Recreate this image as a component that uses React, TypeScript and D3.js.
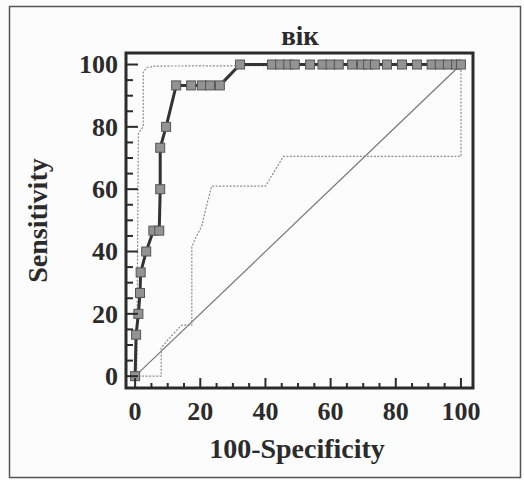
import React from "react";
import * as d3 from "d3";

const title = "вік";
const xTitle = "100-Specificity";
const yTitle = "Sensitivity";
const tickValues = [0, 20, 40, 60, 80, 100];
const minorTickValues = d3.range(0, 101, 5);

// main ROC curve (with markers)
const mainX = [0, 0.3, 1, 1.5, 1.7, 3.4, 5.6, 7.4, 7.7, 7.7, 9.5, 12.6, 17.2, 20.5, 23, 26, 32.2, 42, 44.5, 47, 49, 53.7, 57.5, 60, 62.5, 66.6, 69.6, 71.5, 73.6, 77.3, 81.9, 86.5, 91, 93.5, 96, 98.5, 100];
const mainY = [0, 13.3, 20, 26.7, 33.3, 40, 46.7, 46.7, 60, 73.3, 80, 93.3, 93.3, 93.3, 93.3, 93.3, 100, 100, 100, 100, 100, 100, 100, 100, 100, 100, 100, 100, 100, 100, 100, 100, 100, 100, 100, 100, 100];

// upper dotted curve
const upperX = [0, 0.5, 1, 2.5, 2.5, 3.5, 6, 30, 100];
const upperY = [0, 2, 78, 80, 97.5, 99, 99.5, 99.6, 100];

// lower dotted curve
const lowerX = [0, 8, 8, 10, 14.3, 17.4, 17.4, 18.7, 20.4, 22, 23.5, 40, 45.5, 100, 100];
const lowerY = [0, 0, 9, 11.6, 16.4, 16.4, 41.5, 44.7, 48, 55, 61, 61, 70.5, 70.5, 100];

const W = 524;
const H = 480;
const frame = { left: 126, right: 473, top: 53, bottom: 388 };

export default function App() {
  const x = d3.scaleLinear().domain([-2.8, 103.7]).range([frame.left, frame.right]);
  const y = d3.scaleLinear().domain([-3.8, 103.7]).range([frame.bottom, frame.top]);
  const line = d3
    .line<[number, number]>()
    .x((d) => x(d[0]))
    .y((d) => y(d[1]));
  const mainPts: [number, number][] = mainX.map((v, i) => [v, mainY[i]]);
  const upperPts: [number, number][] = upperX.map((v, i) => [v, upperY[i]]);
  const lowerPts: [number, number][] = lowerX.map((v, i) => [v, lowerY[i]]);
  const font = "'Liberation Serif', 'Times New Roman', serif";
  const ink = "#2b2b2b";
  const ms = 9;

  return (
    <svg
      width={W}
      height={H}
      style={{ position: "absolute", left: 0, top: 0, background: "#fcfcfc" }}
    >
      <rect x={9.5} y={6.5} width={511} height={471} fill="none" stroke="#555" strokeWidth={1.5} />
      <text x={300} y={45} textAnchor="middle" fontFamily={font} fontWeight="bold" fontSize={27} fill={ink}>
        {title}
      </text>

      {/* diagonal */}
      <line x1={x(0)} y1={y(0)} x2={x(100)} y2={y(100)} stroke="#777" strokeWidth={1.2} />

      {/* dotted curves */}
      <path d={line(upperPts) || ""} fill="none" stroke="#8c8c8c" strokeWidth={1.2} strokeDasharray="2 1.5" />
      <path d={line(lowerPts) || ""} fill="none" stroke="#8c8c8c" strokeWidth={1.2} strokeDasharray="2 1.5" />

      {/* main curve */}
      <path d={line(mainPts) || ""} fill="none" stroke="#333" strokeWidth={3} />
      {mainPts.map((p, i) => (
        <rect
          key={i}
          x={x(p[0]) - ms / 2}
          y={y(p[1]) - ms / 2}
          width={ms}
          height={ms}
          fill="#939393"
          stroke="#555"
          strokeWidth={1}
        />
      ))}

      {/* frame */}
      <rect
        x={frame.left}
        y={frame.top}
        width={frame.right - frame.left}
        height={frame.bottom - frame.top}
        fill="none"
        stroke={ink}
        strokeWidth={3}
      />

      {/* ticks */}
      {minorTickValues.map((v) => {
        const major = v % 20 === 0;
        return (
          <g key={"t" + v}>
            <line
              x1={x(v)}
              x2={x(v)}
              y1={frame.bottom}
              y2={frame.bottom - (major ? 10 : 5)}
              stroke={ink}
              strokeWidth={2}
            />
            <line
              x1={frame.left}
              x2={frame.left + (major ? 12 : 7)}
              y1={y(v)}
              y2={y(v)}
              stroke={ink}
              strokeWidth={2}
            />
          </g>
        );
      })}

      {tickValues.map((v) => (
        <g key={"l" + v}>
          <text x={x(v)} y={420} textAnchor="middle" fontFamily={font} fontWeight="bold" fontSize={26} fill={ink}>
            {v}
          </text>
          <text
            x={118}
            y={y(v)}
            dy="0.34em"
            textAnchor="end"
            fontFamily={font}
            fontWeight="bold"
            fontSize={26}
            fill={ink}
          >
            {v}
          </text>
        </g>
      ))}

      <text x={297} y={458} textAnchor="middle" fontFamily={font} fontWeight="bold" fontSize={28} fill={ink}>
        {xTitle}
      </text>
      <text
        transform={`translate(47, ${(frame.top + frame.bottom) / 2}) rotate(-90)`}
        textAnchor="middle"
        fontFamily={font}
        fontWeight="bold"
        fontSize={28}
        fill={ink}
      >
        {yTitle}
      </text>
    </svg>
  );
}
